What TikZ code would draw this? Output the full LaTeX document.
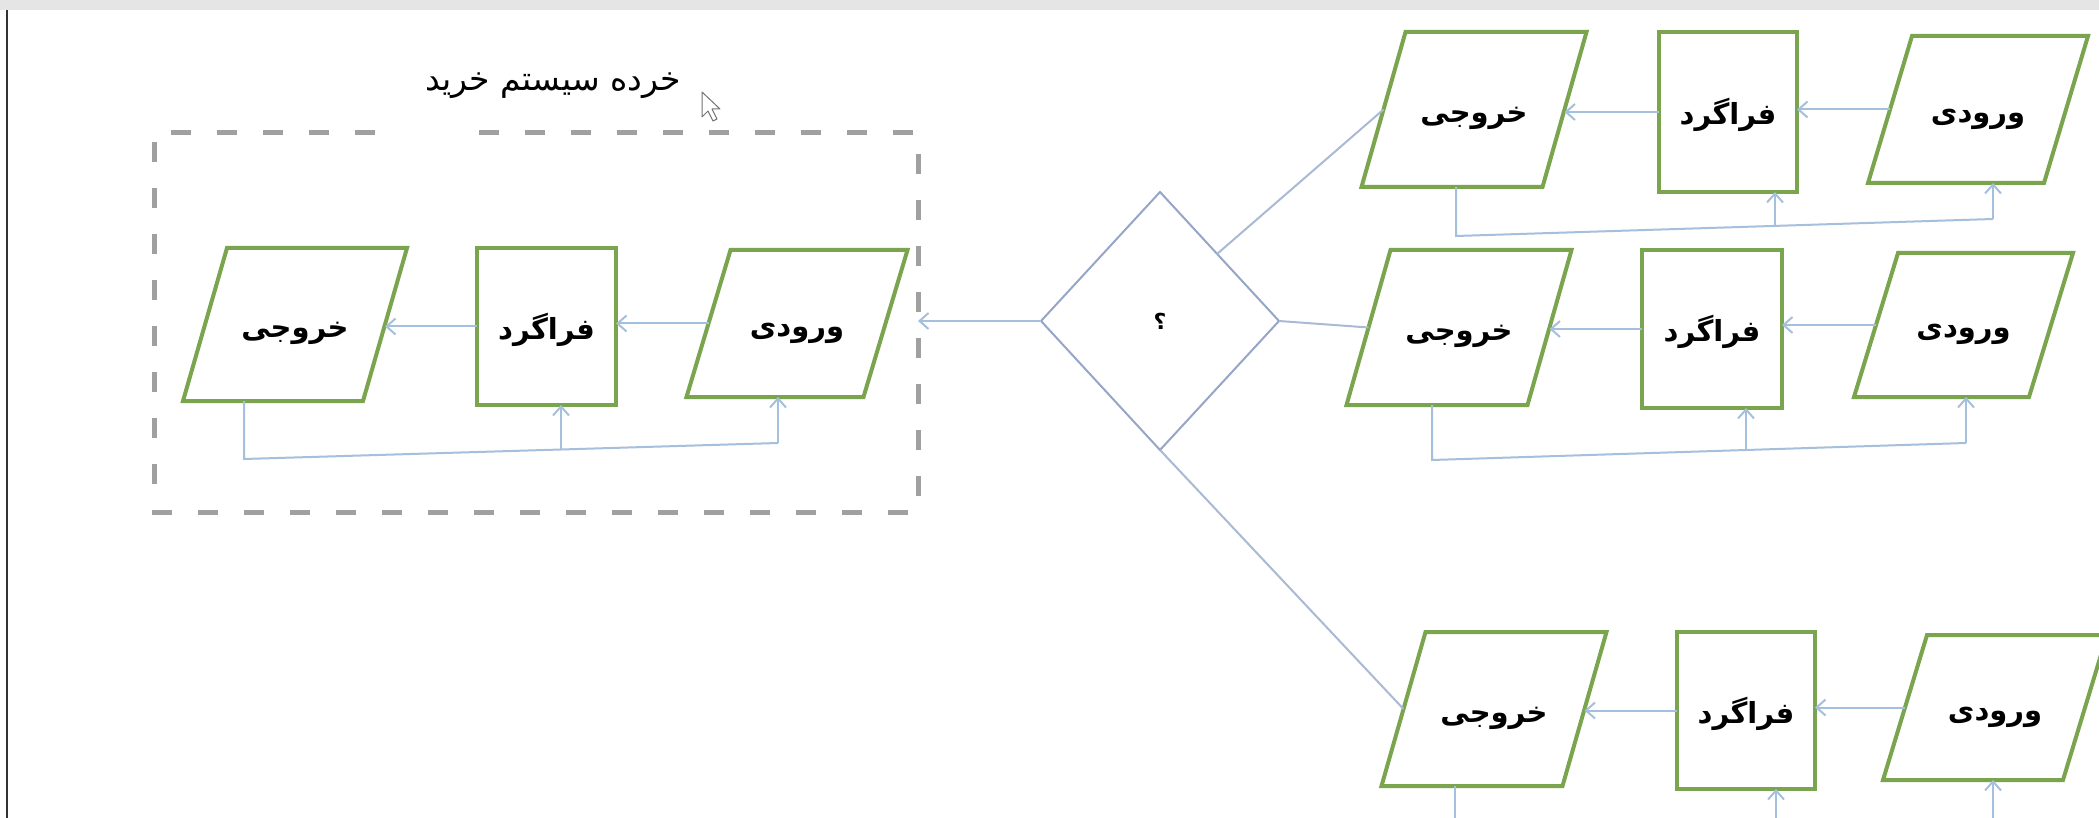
\documentclass[tikz,border=0pt]{standalone}
\usepackage{fontspec}
\newfontfamily\fa[Script=Arabic]{DejaVu Sans}
\TeXXeTstate=1
\usetikzlibrary{shapes.geometric,arrows.meta,calc}
\definecolor{boxgreen}{RGB}{122,165,78}
\definecolor{flowblue}{RGB}{165,192,220}
\definecolor{linkblue}{RGB}{170,185,212}
\definecolor{diamc}{RGB}{150,165,200}
\definecolor{dashgray}{RGB}{160,160,160}
\definecolor{topbar}{RGB}{229,229,229}
\newcommand\fatxt[1]{\raisebox{-13pt}[0pt][0pt]{\beginR #1\endR}}
\tikzset{
  lbl/.style={rectangle, inner sep=0pt, outer sep=0pt, font=\fa\bfseries\fontsize{29}{32}\selectfont},
  boxline/.style={draw=boxgreen, line width=4pt, line join=miter},
  proc/.style={lbl, draw=boxgreen, line width=4pt},
  arr/.style={draw=flowblue, line width=2pt, -{Straight Barb[length=9pt,width=16pt]}},
  fb/.style={draw=flowblue, line width=2pt},
  link/.style={draw=linkblue, line width=2pt},
  dashbox/.style={draw=dashgray, line width=5pt, dash pattern=on 20pt off 26pt},
}
\newcommand\paral[1]{\draw[boxline] ($(#1.south west)+(-22,0)$) -- ($(#1.south east)+(-22,0)$) -- ($(#1.north east)+(22,0)$) -- ($(#1.north west)+(22,0)$) -- cycle;}
\begin{document}
\begin{tikzpicture}[x=1pt,y=-1pt]
\useasboundingbox (0,0) rectangle (2099,818);
\fill[white] (0,0) rectangle (2099,818);
\fill[topbar] (0,0) rectangle (2099,10);
\draw[line width=2pt, black!80] (7,10) -- (7,818);

% title and cursor
\node[font=\fa\fontsize{33}{38}\selectfont] (title) at (553,86) {\beginR خرده سیستم خرید\endR};
\draw[draw=black!55, fill=white, line width=1pt, line join=round] (702,92) -- ++(0,25) -- ++(6,-6) -- ++(5,10) -- ++(4,-2) -- ++(-5,-10) -- ++(8,0) -- cycle;

% dashed sub-system box
\node[minimum width=764pt, minimum height=379pt, inner sep=0pt, outer sep=0pt] (sub) at (536,322.5) {};
\coordinate (gapL) at (375,133);
\coordinate (gapR) at (478,133);
\draw[dashbox] (gapL) -- (sub.north west) -- (sub.south west) -- (sub.south east) -- (sub.north east) -- (gapR);

% left group
\node[lbl, minimum width=180pt, minimum height=153pt] (Lout) at (295,324.5) {\fatxt{خروجی}};
\node[proc, minimum width=139pt, minimum height=157pt] (Lp) at (546.5,326.5) {\fatxt{فراگرد}};
\node[lbl, minimum width=177pt, minimum height=147pt] (Lin) at (797,323.5) {\fatxt{ورودی}};
\paral{Lout}\paral{Lin}
\draw[arr] (Lin.west) -- (Lin.west -| Lp.east);
\draw[arr] (Lp.west) -- (Lp.west -| Lout.east);
\coordinate (Lf1) at (244,459);
\coordinate (Lf2) at (778,443);
\coordinate (Lf3) at (561,449.5);
\draw[fb] (Lout.south -| Lf1) -- (Lf1) -- (Lf2);
\draw[arr] (Lf2) -- (Lin.south -| Lf2);
\draw[arr] (Lf3) -- (Lp.south -| Lf3);

% decision
\node[diamond, draw=diamc, line width=2pt, minimum width=238pt, minimum height=258pt, aspect=0.92, inner sep=0pt, outer sep=0pt, font=\fa\bfseries\fontsize{22}{26}\selectfont] (D) at (1160,321) {\beginR ؟\endR};
\draw[arr] (D.west) -- (D.west -| sub.east);

% top right group
\node[lbl, minimum width=181pt, minimum height=155pt] (Tout) at (1474,109.5) {\fatxt{خروجی}};
\node[proc, minimum width=138pt, minimum height=160pt] (Tp) at (1728,112) {\fatxt{فراگرد}};
\node[lbl, minimum width=176pt, minimum height=147pt] (Tin) at (1978,109.5) {\fatxt{ورودی}};
\paral{Tout}\paral{Tin}
\draw[arr] (Tin.west) -- (Tin.west -| Tp.east);
\draw[arr] (Tp.west) -- (Tp.west -| Tout.east);
\coordinate (Tf1) at (1456,236);
\coordinate (Tf2) at (1993,219);
\coordinate (Tf3) at (1775,226);
\draw[fb] (Tout.south -| Tf1) -- (Tf1) -- (Tf2);
\draw[arr] (Tf2) -- (Tin.south -| Tf2);
\draw[arr] (Tf3) -- (Tp.south -| Tf3);

% middle right group
\node[lbl, minimum width=181pt, minimum height=155pt] (Mout) at (1459,327.5) {\fatxt{خروجی}};
\node[proc, minimum width=140pt, minimum height=158pt] (Mp) at (1712,329) {\fatxt{فراگرد}};
\node[lbl, minimum width=175pt, minimum height=144pt] (Min) at (1963.5,325) {\fatxt{ورودی}};
\paral{Mout}\paral{Min}
\draw[arr] (Min.west) -- (Min.west -| Mp.east);
\draw[arr] (Mp.west) -- (Mp.west -| Mout.east);
\coordinate (Mf1) at (1432,460);
\coordinate (Mf2) at (1966,443);
\coordinate (Mf3) at (1746,450);
\draw[fb] (Mout.south -| Mf1) -- (Mf1) -- (Mf2);
\draw[arr] (Mf2) -- (Min.south -| Mf2);
\draw[arr] (Mf3) -- (Mp.south -| Mf3);

% bottom right group
\node[lbl, minimum width=181pt, minimum height=154pt] (Bout) at (1494,709) {\fatxt{خروجی}};
\node[proc, minimum width=138pt, minimum height=157pt] (Bp) at (1746,710.5) {\fatxt{فراگرد}};
\node[lbl, minimum width=180pt, minimum height=145pt] (Bin) at (1995,707.5) {\fatxt{ورودی}};
\paral{Bout}\paral{Bin}
\draw[arr] (Bin.west) -- (Bin.west -| Bp.east);
\draw[arr] (Bp.west) -- (Bp.west -| Bout.east);
\coordinate (Bf1) at (1455,830);
\coordinate (Bf2) at (1776,830);
\coordinate (Bf3) at (1993,830);
\draw[fb] (Bout.south -| Bf1) -- (Bf1);
\draw[arr] (Bf2) -- (Bp.south -| Bf2);
\draw[arr] (Bf3) -- (Bin.south -| Bf3);

% links from decision
\coordinate (Dne) at ($(D.north)!0.48!(D.east)$);
\draw[link] (Dne) -- (Tout.west);
\draw[link] (D.east) -- (Mout.west);
\draw[link] (D.south) -- (Bout.west);
\end{tikzpicture}
\end{document}
